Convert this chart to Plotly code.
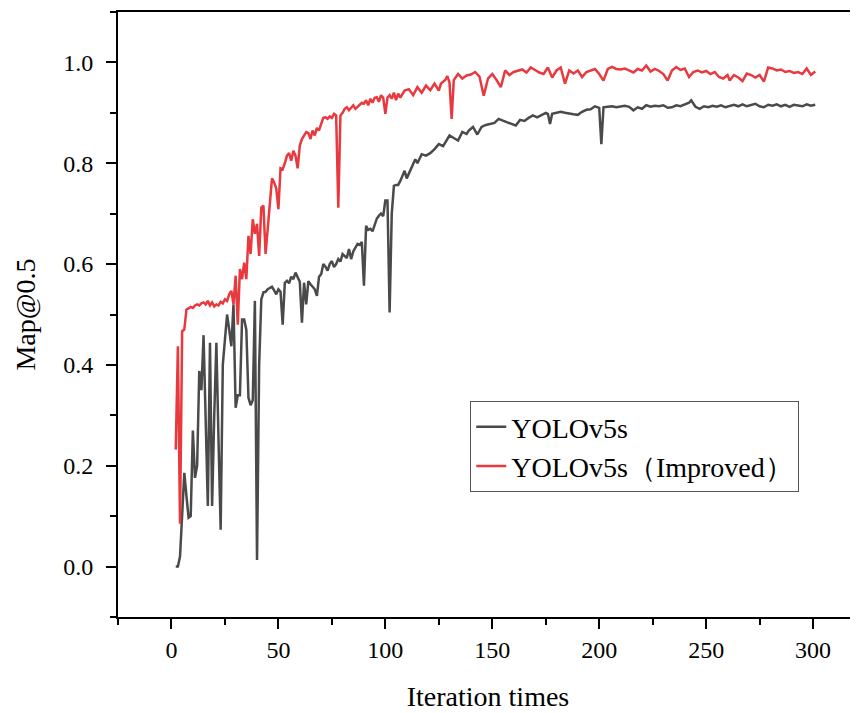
import plotly.graph_objects as go

# YOLOv5s baseline
base_x = list(range(2, 108)) + [
    109, 110, 112, 114, 115, 117, 119, 121, 123, 125, 127, 129, 130, 132, 134, 136, 138, 139,
    141, 143, 145, 147, 149, 151, 153, 155, 157, 159, 161, 163, 165, 167, 169, 171, 173, 175,
    176, 177, 178, 180, 182, 184, 186, 188, 190, 192, 194, 196, 198, 200, 201, 202, 204, 206,
    208, 210, 212, 214, 216, 218, 220, 222, 224, 226, 228, 230, 232, 234, 236, 238, 240, 242,
    243, 245, 247, 249, 251, 253, 255, 257, 259, 261, 263, 265, 267, 269, 271, 273, 275, 277,
    279, 281, 283, 285, 287, 289, 291, 293, 295, 297, 299, 301,
]
base_y = [
    0.0, 0.0, 0.02, 0.12, 0.186, 0.14, 0.097, 0.10, 0.27, 0.176,
    0.20, 0.388, 0.35, 0.459, 0.30, 0.12, 0.444, 0.12, 0.30, 0.444,
    0.25, 0.073, 0.40, 0.46, 0.50, 0.47, 0.437, 0.52, 0.315, 0.34,
    0.34, 0.49, 0.49, 0.47, 0.335, 0.32, 0.33, 0.527, 0.013, 0.40,
    0.53, 0.544, 0.545, 0.55, 0.552, 0.555, 0.548, 0.54, 0.55, 0.545,
    0.48, 0.563, 0.567, 0.562, 0.575, 0.57, 0.583, 0.575, 0.565, 0.484,
    0.563, 0.52, 0.566, 0.56, 0.556, 0.55, 0.537, 0.575, 0.58, 0.60,
    0.595, 0.587, 0.60, 0.606, 0.594, 0.60, 0.61, 0.605, 0.62, 0.615,
    0.612, 0.63, 0.61, 0.625, 0.633, 0.64, 0.638, 0.644, 0.557, 0.676,
    0.668, 0.67, 0.665, 0.676, 0.69, 0.696, 0.70, 0.695, 0.726, 0.726,
    0.504, 0.70, 0.755, 0.757, 0.757, 0.765,
    0.785, 0.77, 0.79, 0.808, 0.80, 0.818, 0.815, 0.82, 0.828, 0.838, 0.834, 0.848, 0.855,
    0.85, 0.845, 0.862, 0.858, 0.865, 0.872, 0.857, 0.872, 0.876, 0.878, 0.88, 0.888, 0.884,
    0.881, 0.878, 0.875, 0.886, 0.884, 0.89, 0.895, 0.891, 0.895, 0.90, 0.898, 0.878, 0.898,
    0.90, 0.902, 0.90, 0.898, 0.897, 0.896, 0.902, 0.906, 0.907, 0.913, 0.91, 0.838, 0.911,
    0.912, 0.913, 0.911, 0.913, 0.914, 0.912, 0.905, 0.911, 0.908, 0.915, 0.912, 0.914, 0.913,
    0.915, 0.91, 0.911, 0.915, 0.913, 0.916, 0.92, 0.925, 0.912, 0.908, 0.913, 0.911, 0.914,
    0.912, 0.915, 0.911, 0.914, 0.916, 0.913, 0.917, 0.913, 0.915, 0.918, 0.913, 0.911, 0.916,
    0.914, 0.917, 0.913, 0.916, 0.912, 0.916, 0.915, 0.913, 0.917, 0.914, 0.916,
]

# YOLOv5s (Improved)
impr_x = list(range(2, 108)) + [
    109, 111, 113, 115, 117, 119, 121, 123, 125, 126, 128, 129, 130, 131, 132, 134, 136, 138,
    140, 142, 144, 146, 148, 150, 152, 154, 156, 158, 160, 162, 164, 166, 168, 170, 172, 174,
    176, 178, 180, 182, 184, 186, 188, 190, 192, 194, 196, 198, 200, 202, 204, 206, 208, 210,
    212, 214, 216, 218, 220, 222, 224, 226, 228, 230, 232, 234, 236, 238, 240, 242, 244, 246,
    248, 250, 252, 254, 256, 258, 260, 261, 263, 265, 267, 269, 271, 273, 275, 277, 279, 281,
    283, 285, 287, 289, 291, 293, 295, 297, 299, 301,
]
impr_y = [
    0.232, 0.437, 0.085, 0.467, 0.47, 0.51, 0.512, 0.515, 0.513, 0.518,
    0.52, 0.518, 0.522, 0.524, 0.52, 0.527, 0.518, 0.524, 0.516, 0.52,
    0.518, 0.525, 0.522, 0.53, 0.527, 0.54, 0.547, 0.52, 0.577, 0.48,
    0.59, 0.57, 0.603, 0.57, 0.656, 0.62, 0.689, 0.66, 0.68, 0.616,
    0.712, 0.716, 0.62, 0.68, 0.72, 0.77, 0.762, 0.75, 0.709, 0.79,
    0.788, 0.80, 0.815, 0.82, 0.805, 0.825, 0.815, 0.79, 0.835, 0.848,
    0.855, 0.862, 0.86, 0.848, 0.865, 0.855, 0.87, 0.865, 0.878, 0.89,
    0.891, 0.888, 0.893, 0.89, 0.898, 0.895, 0.712, 0.895, 0.90, 0.908,
    0.911, 0.905, 0.91, 0.915, 0.908, 0.912, 0.918, 0.92, 0.918, 0.925,
    0.915, 0.928, 0.92, 0.93, 0.931, 0.922, 0.935, 0.93, 0.898, 0.93,
    0.935, 0.928, 0.94, 0.925, 0.938, 0.93,
    0.944, 0.947, 0.935, 0.951, 0.94, 0.954, 0.945, 0.958, 0.944, 0.958, 0.965, 0.973, 0.96,
    0.888, 0.965, 0.977, 0.968, 0.974, 0.976, 0.981, 0.972, 0.934, 0.968, 0.977, 0.965, 0.951,
    0.984, 0.975, 0.981, 0.984, 0.986, 0.98, 0.99, 0.985, 0.98, 0.977, 0.99, 0.97, 0.984,
    0.99, 0.958, 0.984, 0.978, 0.984, 0.971, 0.981, 0.984, 0.987, 0.977, 0.964, 0.987, 0.991,
    0.987, 0.986, 0.988, 0.984, 0.98, 0.987, 0.984, 0.994, 0.982, 0.987, 0.983, 0.977, 0.964,
    0.984, 0.991, 0.985, 0.988, 0.971, 0.981, 0.984, 0.98, 0.983, 0.977, 0.981, 0.971, 0.968,
    0.975, 0.964, 0.975, 0.97, 0.963, 0.978, 0.975, 0.97, 0.975, 0.962, 0.99, 0.988, 0.984,
    0.986, 0.981, 0.983, 0.979, 0.981, 0.977, 0.988, 0.975, 0.982,
]

font = "Liberation Serif"

fig = go.Figure()
fig.add_trace(go.Scatter(x=base_x, y=base_y, mode="lines", name="YOLOv5s",
                         line=dict(color="#4a4a4a", width=2.5)))
fig.add_trace(go.Scatter(x=impr_x, y=impr_y, mode="lines", name="YOLOv5s（Improved）",
                         line=dict(color="#e8393e", width=2.5)))

axis_common = dict(
    showgrid=False, zeroline=False, showline=True, linecolor="black", linewidth=2,
    ticks="outside", ticklen=10, tickwidth=2, tickcolor="black", automargin=False,
    tickfont=dict(family=font, size=24, color="black"),
)
fig.update_xaxes(
    **axis_common, range=[-25, 321], tick0=0, dtick=50, mirror=True,
    minor=dict(ticks="outside", ticklen=6, tickwidth=2, tickcolor="black", tick0=0, dtick=25),
    ticklabelstandoff=0,
    title=dict(text="Iteration times", font=dict(family=font, size=28, color="black"), standoff=25),
)
fig.update_yaxes(
    **axis_common, range=[-0.1, 1.1], tick0=0, dtick=0.2, tickformat=".1f",
    minor=dict(ticks="outside", ticklen=6, tickwidth=2, tickcolor="black", tick0=0, dtick=0.1),
    ticklabelstandoff=8,
    title=dict(text="Map@0.5", font=dict(family=font, size=28, color="black"), standoff=19),
)
# the page body adds 8px around the figure, so the figure is 8px smaller here
fig.update_layout(
    width=850, height=705,
    margin=dict(l=110, r=0, t=4, b=96),
    font=dict(family=font, color="black"),
    plot_bgcolor="white", paper_bgcolor="white",
    legend=dict(
        x=0.476, y=0.357, xanchor="left", yanchor="top",
        bordercolor="#555555", borderwidth=1, bgcolor="white",
        font=dict(family=font, size=28, color="black"),
        tracegroupgap=0,
    ),
)
fig.write_html("out.html")
